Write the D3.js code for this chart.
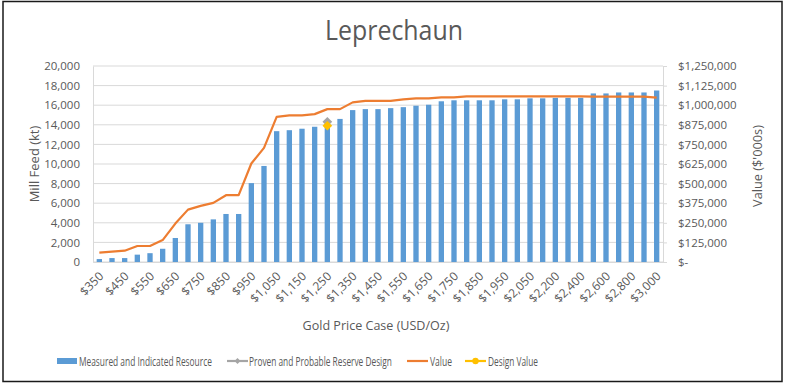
<!DOCTYPE html>
<html>
<head>
<meta charset="utf-8">
<script src="https://cdn.jsdelivr.net/npm/d3@7"></script>
<style>
  body { margin: 0; background: #fff; }
  text { font-family: "Open Sans", sans-serif; fill: #595959; }
</style>
</head>
<body>
<div id="chart"></div>
<script>
// gold price cases (USD/oz)
const priceCases = [350, 400, 450, 500, 550, 600, 650, 700, 750, 800, 850, 900, 950, 1000,
  1050, 1100, 1150, 1200, 1250, 1300, 1350, 1400, 1450, 1500, 1550, 1600, 1650, 1700,
  1750, 1800, 1850, 1900, 1950, 2000, 2050, 2100, 2200, 2300, 2400, 2500, 2600, 2700,
  2800, 2900, 3000];

// measured and indicated resource mill feed (kt)
const millFeed = [300, 400, 400, 750, 900, 1350, 2450, 3850, 4000, 4350, 4900, 4900, 8050, 9800,
  13350, 13450, 13600, 13800, 13950, 14600, 15500, 15600, 15600, 15700, 15800, 15950, 16050, 16400,
  16500, 16500, 16500, 16500, 16600, 16600, 16700, 16700, 16750, 16750, 16750, 17200, 17200, 17300,
  17300, 17300, 17500];

// value ($'000s)
const value = [60000, 66000, 72000, 102000, 102000, 140000, 245000, 334000, 358000, 377000, 426000, 426000, 628000, 728000,
  926000, 935000, 935000, 943000, 975000, 975000, 1018000, 1028000, 1028000, 1028000, 1037000, 1043000, 1043000, 1050000,
  1050000, 1056000, 1056000, 1056000, 1056000, 1056000, 1056000, 1056000, 1056000, 1056000, 1056000, 1055000, 1055000, 1055000,
  1055000, 1055000, 1048000];

// single design points at $1,250
const reserveDesign = [{ price: 1250, feed: 14300 }];
const designValue = [{ price: 1250, value: 869000 }];

const xTickLabels = [350, 450, 550, 650, 750, 850, 950, 1050, 1150, 1250, 1350, 1450, 1550,
  1650, 1750, 1850, 1950, 2050, 2200, 2400, 2600, 2800, 3000];
const leftTicks = [0, 2000, 4000, 6000, 8000, 10000, 12000, 14000, 16000, 18000, 20000];
const rightTicks = [0, 125000, 250000, 375000, 500000, 625000, 750000, 875000, 1000000, 1125000, 1250000];

const W = 787, H = 390;
const plot = { left: 93, right: 663, top: 66, bottom: 262 };

const svg = d3.select('#chart').append('svg')
  .attr('width', W)
  .attr('height', H);

svg.append('rect')
  .attr('x', 0).attr('y', 0).attr('width', W).attr('height', H)
  .attr('fill', '#fff');

// outer frame
svg.append('rect')
  .attr('x', 3).attr('y', 1.5).attr('width', 779).attr('height', 380)
  .attr('fill', 'none').attr('stroke', '#1a1a1a').attr('stroke-width', 1.5);

const x = d3.scaleBand()
  .domain(priceCases)
  .range([plot.left, plot.right])
  .paddingInner(0.58)
  .paddingOuter(0.29);

const yL = d3.scaleLinear().domain([0, 20000]).range([plot.bottom, plot.top]);
const yR = d3.scaleLinear().domain([0, 1250000]).range([plot.bottom, plot.top]);
const xc = d => x(d) + x.bandwidth() / 2;

// gridlines
svg.append('g')
  .selectAll('line')
  .data(leftTicks)
  .enter()
  .append('line')
  .attr('x1', plot.left).attr('x2', plot.right)
  .attr('y1', d => yL(d)).attr('y2', d => yL(d))
  .attr('stroke', '#d9d9d9').attr('stroke-width', 1);

// left axis
const axL = svg.append('g')
  .attr('transform', `translate(${plot.left},0)`)
  .call(d3.axisLeft(yL).tickValues(leftTicks).tickSize(0).tickPadding(13).tickFormat(d3.format(',')));
axL.select('.domain').attr('stroke', '#d9d9d9');
axL.selectAll('text').style('font-size', '11.5px').style('font-family', '"Open Sans", sans-serif').attr('fill', '#595959');

// right axis
const axR = svg.append('g')
  .attr('transform', `translate(${plot.right},0)`)
  .call(d3.axisRight(yR).tickValues(rightTicks).tickSize(4).tickPadding(11)
    .tickFormat(d => d === 0 ? '$-' : '$' + d3.format(',')(d)));
axR.select('.domain').attr('stroke', '#d9d9d9');
axR.selectAll('line').attr('stroke', '#d9d9d9');
axR.selectAll('text').style('font-size', '11.5px').style('font-family', '"Open Sans", sans-serif').attr('fill', '#595959');

// bars
svg.append('g')
  .selectAll('rect')
  .data(priceCases)
  .enter()
  .append('rect')
  .attr('x', d => x(d))
  .attr('y', (d, i) => yL(millFeed[i]))
  .attr('width', x.bandwidth())
  .attr('height', (d, i) => plot.bottom - yL(millFeed[i]))
  .attr('fill', '#5b9bd5');

// bottom axis
const axB = svg.append('g')
  .attr('transform', `translate(0,${plot.bottom})`)
  .call(d3.axisBottom(x).tickValues(xTickLabels).tickSize(0)
    .tickFormat(d => '$' + d3.format(',')(d)));
axB.select('.domain').attr('stroke', '#d9d9d9');
axB.selectAll('text')
  .style('font-size', '12px').style('font-family', '"Open Sans", sans-serif').attr('fill', '#595959')
  .attr('text-anchor', 'end')
  .attr('x', 0).attr('y', 0).attr('dy', 0)
  .attr('transform', 'translate(5,15) rotate(-45)');

// proven and probable reserve design point
const diamond = d3.symbol().type(d3.symbolDiamond2).size(60);
svg.append('g')
  .selectAll('path')
  .data(reserveDesign)
  .enter()
  .append('path')
  .attr('d', diamond)
  .attr('transform', d => `translate(${xc(d.price)},${yL(d.feed)})`)
  .attr('fill', '#a5a5a5');

// value line
const line = d3.line()
  .x((d, i) => xc(priceCases[i]))
  .y(d => yR(d));
svg.append('path')
  .datum(value)
  .attr('d', line)
  .attr('fill', 'none')
  .attr('stroke', '#ed7d31')
  .attr('stroke-width', 2.2)
  .attr('stroke-linejoin', 'round');

// design value point
svg.append('g')
  .selectAll('path')
  .data(designValue)
  .enter()
  .append('path')
  .attr('d', diamond)
  .attr('transform', d => `translate(${xc(d.price)},${yR(d.value)})`)
  .attr('fill', '#ffc000');

// squeeze a text horizontally to a given width (the source font is narrow)
function squeeze(sel, tx, ty, width, rot) {
  const w = sel.node().getComputedTextLength();
  const k = Math.min(1, width / w);
  sel.attr('transform', `translate(${tx},${ty})` + (rot ? ` rotate(${rot})` : '') + ` scale(${k},1)`);
}

// titles
squeeze(svg.append('text')
  .attr('text-anchor', 'middle')
  .style('font-size', '27px')
  .text('Leprechaun'), 394, 40, 138);

squeeze(svg.append('text')
  .attr('text-anchor', 'middle')
  .style('font-size', '13px')
  .text('Mill Feed (kt)'), 38.5, 164, 78, -90);

squeeze(svg.append('text')
  .attr('text-anchor', 'middle')
  .style('font-size', '13px')
  .text("Value ($'000s)"), 762, 166, 82, -90);

squeeze(svg.append('text')
  .attr('text-anchor', 'middle')
  .style('font-size', '13px')
  .text('Gold Price Case (USD/Oz)'), 376, 330, 147);

// legend
const legendItems = [
  { label: 'Measured and Indicated Resource', kind: 'bar', color: '#5b9bd5', x: 57, tx: 79, tw: 133 },
  { label: 'Proven and Probable Reserve Design', kind: 'diamond', color: '#a5a5a5', x: 227, tx: 249, tw: 143 },
  { label: 'Value', kind: 'line', color: '#ed7d31', x: 407, tx: 430, tw: 22 },
  { label: 'Design Value', kind: 'dot', color: '#ffc000', x: 465, tx: 488, tw: 50 }
];
const ly = 361;
const lg = svg.append('g');
legendItems.forEach(it => {
  const g = lg.append('g');
  if (it.kind === 'bar') {
    g.append('rect').attr('x', it.x).attr('y', ly - 3).attr('width', 20).attr('height', 6).attr('fill', it.color);
  } else {
    g.append('line').attr('x1', it.x).attr('x2', it.x + 21).attr('y1', ly).attr('y2', ly)
      .attr('stroke', it.color).attr('stroke-width', 2.2);
    if (it.kind === 'diamond') {
      g.append('path').attr('d', d3.symbol().type(d3.symbolDiamond2).size(22))
        .attr('transform', `translate(${it.x + 10.5},${ly})`).attr('fill', it.color);
    } else if (it.kind === 'dot') {
      g.append('circle').attr('cx', it.x + 10.5).attr('cy', ly).attr('r', 3.2).attr('fill', it.color);
    }
  }
  squeeze(g.append('text')
    .style('font-size', '12.5px')
    .text(it.label), it.tx, ly + 4.5, it.tw);
});
</script>
</body>
</html>
